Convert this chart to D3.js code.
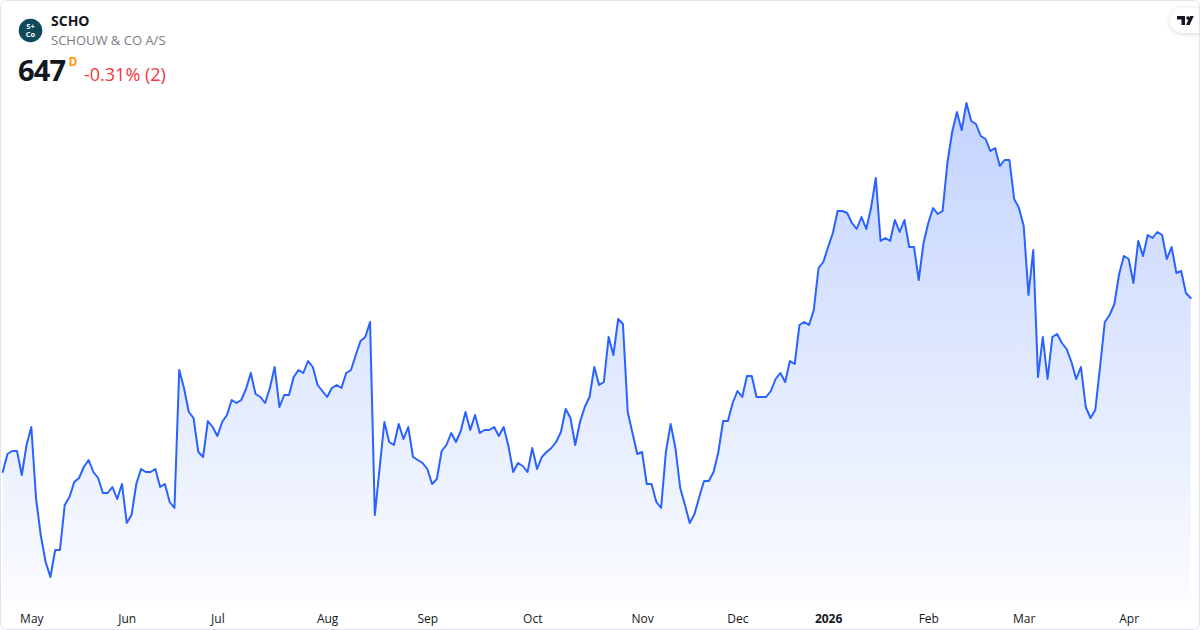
<!DOCTYPE html>
<html>
<head>
<meta charset="utf-8">
<script src="https://cdn.jsdelivr.net/npm/d3@7"></script>
<style>
  html, body { margin: 0; padding: 0; background: #fff; }
  svg { display: block; font-family: "Open Sans", "Noto Sans", sans-serif; }
</style>
</head>
<body>
<div class="vis-area"></div>
<script>
// daily closes, SCHO (DKK), trading days only
const prices = [
  577.4, 584.6, 585.8, 585.8, 576.2, 588.2, 595.4, 566.6, 551.8, 541.4,
  535.4, 546.2, 546.2, 564.2, 567.4, 573.4, 575.0, 579.4, 582.2, 577.4,
  575.0, 569.0, 569.0, 571.4, 566.6, 572.6, 557.0, 560.2, 572.6, 578.6,
  577.4, 577.4, 578.6, 571.4, 572.6, 565.4, 563.0, 618.2, 611.0, 601.4,
  599.0, 585.4, 583.4, 597.8, 595.4, 591.8, 597.4, 600.2, 606.2, 605.0,
  606.2, 610.6, 617.0, 608.6, 607.4, 605.0, 611.0, 619.4, 603.4, 608.2,
  608.2, 615.4, 618.2, 617.0, 621.8, 619.4, 612.2, 609.8, 607.4, 611.0,
  612.2, 611.0, 617.0, 618.2, 624.2, 629.8, 631.4, 637.4, 560.2, 579.0,
  597.4, 589.4, 588.2, 596.6, 590.6, 595.4, 583.4, 582.2, 581.0, 578.6,
  572.6, 574.6, 585.8, 588.2, 593.0, 589.4, 593.8, 601.4, 594.2, 600.2,
  593.0, 594.2, 594.2, 595.4, 591.8, 595.4, 587.8, 577.4, 581.0, 579.8,
  577.4, 587.0, 578.6, 583.4, 585.4, 587.0, 589.4, 593.4, 602.6, 599.0,
  588.2, 597.4, 603.4, 607.4, 619.4, 612.2, 613.4, 631.4, 624.2, 638.6,
  636.6, 601.4, 593.0, 584.6, 585.4, 572.6, 572.6, 565.4, 563.0, 585.4,
  596.6, 587.0, 571.0, 564.2, 557.0, 560.6, 567.4, 573.8, 573.8, 577.4,
  585.4, 597.8, 597.8, 605.0, 609.8, 607.4, 615.8, 615.8, 607.4, 607.4,
  607.4, 609.8, 614.6, 617.0, 613.4, 621.8, 620.6, 636.2, 637.4, 636.2,
  642.2, 659.0, 661.4, 667.4, 673.0, 681.8, 681.8, 681.0, 677.0, 674.6,
  679.4, 674.6, 683.0, 695.0, 669.8, 671.0, 669.8, 678.2, 673.4, 678.2,
  667.4, 667.4, 654.2, 669.0, 677.0, 683.0, 680.6, 681.8, 701.0, 713.4,
  721.4, 714.2, 725.0, 717.8, 716.6, 711.8, 710.6, 705.8, 707.0, 699.8,
  702.2, 702.2, 686.6, 683.0, 675.8, 648.2, 666.2, 615.4, 631.4, 614.6,
  631.4, 632.6, 629.0, 626.6, 621.4, 614.6, 619.4, 603.4, 599.0, 602.2,
  619.4, 637.4, 640.2, 644.6, 656.6, 663.8, 662.6, 653.0, 669.8, 663.8,
  672.2, 671.0, 673.4, 672.2, 662.6, 667.4, 657.0, 657.8, 649.0, 647.0
];

// first trading day of each month (bar index) and its label
const monthLabels = ['May', 'Jun', 'Jul', 'Aug', 'Sep', 'Oct', 'Nov', 'Dec', '2026', 'Feb', 'Mar', 'Apr'];
const monthStarts = [6, 26, 45, 68, 89, 111, 134, 154, 173, 194, 214, 236];

const ticker = 'SCHO';
const company = 'SCHOUW & CO A/S';
const lastPrice = '647';
const change = '-0.31% (2)';

const width = 1200;
const height = 630;

const svg = d3.select('.vis-area')
  .append('svg')
  .attr('width', width)
  .attr('height', height);

const defs = svg.append('defs');

const grad = defs.append('linearGradient')
  .attr('id', 'areaFill')
  .attr('gradientUnits', 'userSpaceOnUse')
  .attr('x1', 0).attr('x2', 0)
  .attr('y1', 103).attr('y2', 601);
grad.append('stop').attr('offset', '0%').attr('stop-color', '#2962ff').attr('stop-opacity', 0.28);
grad.append('stop').attr('offset', '100%').attr('stop-color', '#2962ff').attr('stop-opacity', 0.02);

const shadow = defs.append('filter').attr('id', 'pillShadow')
  .attr('x', '-50%').attr('y', '-50%').attr('width', '200%').attr('height', '200%');
shadow.append('feDropShadow')
  .attr('dx', 0).attr('dy', 1).attr('stdDeviation', 2.5)
  .attr('flood-color', '#000').attr('flood-opacity', 0.15);

// scales
const x = d3.scaleLinear().domain([0, prices.length - 1]).range([2.7, 1190.7]);
const y = d3.scaleLinear().domain(d3.extent(prices)).range([577, 103]);
const baseY = 601;

// area + line
const area = d3.area()
  .x((d, i) => x(i))
  .y0(baseY)
  .y1((d) => y(d));

const line = d3.line()
  .x((d, i) => x(i))
  .y((d) => y(d));

svg.append('path')
  .datum(prices)
  .attr('d', area)
  .attr('fill', 'url(#areaFill)');

svg.append('path')
  .datum(prices)
  .attr('d', line)
  .attr('fill', 'none')
  .attr('stroke', '#2962ff')
  .attr('stroke-width', 2)
  .attr('stroke-linejoin', 'round')
  .attr('stroke-linecap', 'round');

// x axis with month labels
const xAxis = svg.append('g')
  .attr('transform', 'translate(0,614)')
  .call(d3.axisBottom(x)
    .tickValues(monthStarts)
    .tickSize(0)
    .tickPadding(0)
    .tickFormat((d, i) => monthLabels[i]));
xAxis.select('.domain').remove();
xAxis.selectAll('text')
  .attr('dy', '0.71em')
  .attr('font-family', '"Open Sans", "Noto Sans", sans-serif')
  .attr('font-size', 12)
  .attr('fill', '#131722')
  .attr('font-weight', (d, i) => (monthLabels[i] === '2026' ? 700 : 400));

// header
const logo = svg.append('g').attr('transform', 'translate(30.5,30.5)');
logo.append('circle').attr('r', 11.8).attr('fill', '#0e4a5c');
const logoText = logo.append('text')
  .attr('text-anchor', 'middle')
  .attr('font-size', 7.5)
  .attr('font-weight', 700)
  .attr('fill', '#fff');
logoText.append('tspan').attr('x', 0).attr('y', -1.2).text('S+');
logoText.append('tspan').attr('x', 0).attr('y', 6.6).text('Co');

svg.append('text')
  .attr('x', 51)
  .attr('y', 26)
  .attr('font-size', 14)
  .attr('font-weight', 700)
  .attr('fill', '#131722')
  .text(ticker);

svg.append('text')
  .attr('x', 51)
  .attr('y', 45)
  .attr('font-size', 13)
  .attr('fill', '#787b86')
  .text(company);

svg.append('text')
  .attr('x', 18)
  .attr('y', 81)
  .attr('font-size', 29)
  .attr('font-weight', 700)
  .attr('letter-spacing', -0.8)
  .attr('fill', '#131722')
  .text(lastPrice);

svg.append('text')
  .attr('x', 68.5)
  .attr('y', 66)
  .attr('font-size', 12)
  .attr('font-weight', 700)
  .attr('fill', '#ff9800')
  .text('D');

svg.append('text')
  .attr('x', 84)
  .attr('y', 81)
  .attr('font-size', 18)
  .attr('fill', '#f23645')
  .text(change);

// TradingView badge top right
const badge = svg.append('g');
badge.append('rect')
  .attr('x', 1170).attr('y', 8)
  .attr('width', 44).attr('height', 25)
  .attr('rx', 12.5)
  .attr('fill', '#fff')
  .attr('filter', 'url(#pillShadow)');
badge.append('path')
  .attr('d', 'M1177,16 h8 v9 h-3.5 v-5.5 h-4.5 z')
  .attr('fill', '#131722');
badge.append('circle')
  .attr('cx', 1188).attr('cy', 18).attr('r', 1.8)
  .attr('fill', '#131722');
badge.append('path')
  .attr('d', 'M1186,25 h3.6 l4.2,-9 h-3.6 z')
  .attr('fill', '#131722');

// card border
svg.append('rect')
  .attr('x', 0.5).attr('y', 0.5)
  .attr('width', width - 1).attr('height', height - 1)
  .attr('rx', 6)
  .attr('fill', 'none')
  .attr('stroke', '#e0e3eb');
</script>
</body>
</html>
